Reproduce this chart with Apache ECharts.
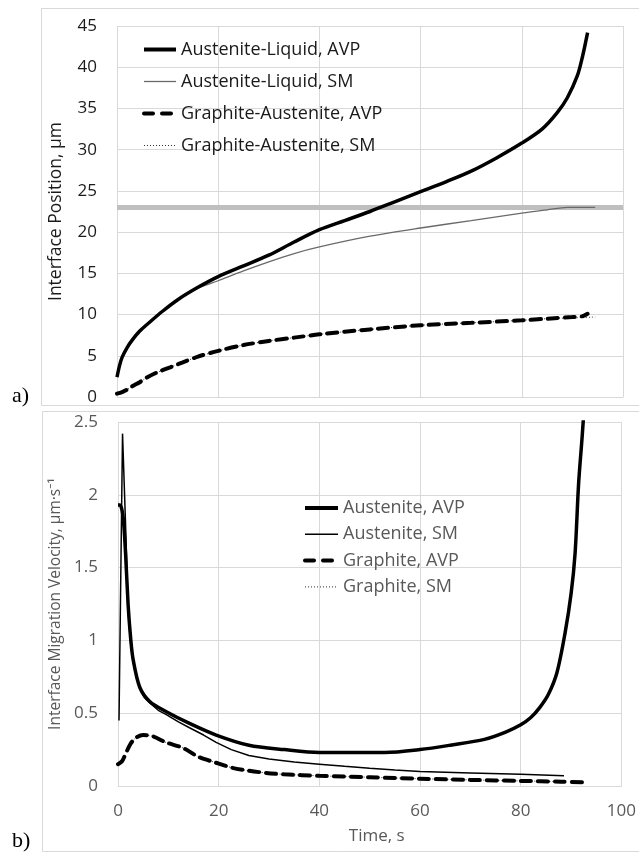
<!DOCTYPE html>
<html>
<head>
<meta charset="utf-8">
<script src="https://cdn.jsdelivr.net/npm/echarts@6/dist/echarts.min.js"></script>
<style>
html,body{margin:0;padding:0;background:#fff;}
#chart{width:639px;height:854px;}
</style>
</head>
<body>
<div id="chart"></div>
<script>
// ---- Data: panel a) Interface Position (µm) vs Time (s) ----
var xTicks = [0, 20, 40, 60, 80, 100];
var posTicksA = [0, 5, 10, 15, 20, 25, 30, 35, 40, 45];
var velTicksB = [0, 0.5, 1, 1.5, 2, 2.5];

var alAvpT = [0, 0.5, 1, 2, 3, 4.5, 6.5, 9, 12, 16, 20, 25, 30, 35, 40, 45, 50, 55, 60, 65, 70, 75, 80, 84, 87, 89, 91, 92, 93];
var alAvpV = [2.4, 3.8, 4.8, 6.0, 6.9, 8.0, 9.1, 10.4, 11.8, 13.3, 14.6, 15.9, 17.2, 18.8, 20.3, 21.4, 22.5, 23.7, 24.9, 26.1, 27.4, 29.0, 30.8, 32.5, 34.5, 36.3, 39.0, 41.3, 44.2];

var alSmT = [0, 0.5, 1, 2, 3, 4.5, 6.5, 9, 12, 16, 20, 25, 30, 35, 40, 50, 60, 70, 80, 85, 89, 94.5];
var alSmV = [2.4, 3.8, 4.8, 6.0, 6.9, 8.0, 9.1, 10.4, 11.8, 13.2, 14.1, 15.3, 16.4, 17.4, 18.2, 19.5, 20.5, 21.4, 22.3, 22.7, 23.0, 23.0];

var gaAvpT = [0, 1, 2, 3, 4.5, 6, 8, 10.5, 13, 16, 20, 25, 30, 35, 40, 50, 60, 70, 80, 85, 90, 92, 93];
var gaAvpV = [0.4, 0.6, 0.9, 1.3, 1.8, 2.4, 3.0, 3.6, 4.2, 4.9, 5.6, 6.3, 6.8, 7.2, 7.6, 8.2, 8.7, 9.0, 9.3, 9.5, 9.7, 9.8, 10.1];

var gaSmT = [0, 1, 2, 3, 4.5, 6, 8, 10.5, 13, 16, 20, 25, 30, 35, 40, 50, 60, 70, 80, 85, 90, 94.5];
var gaSmV = [0.4, 0.6, 0.9, 1.3, 1.8, 2.4, 3.0, 3.6, 4.2, 4.9, 5.6, 6.3, 6.8, 7.2, 7.6, 8.2, 8.7, 9.0, 9.3, 9.5, 9.6, 9.7];

var criticalPosition = 23; // grey horizontal reference line

// ---- Data: panel b) Interface Migration Velocity vs Time ----
var aAvpT = [0, 0.4, 1.0, 1.5, 2.0, 2.5, 3.0, 4.3, 6.3, 9.6, 14.2, 19.5, 26, 33, 40, 47, 53, 60, 66, 72.8, 77, 80, 82, 83.8, 85.5, 87.2, 88.8, 90, 90.8, 91.5, 92.2, 93];
var aAvpV = [1.93, 1.93, 1.85, 1.6, 1.25, 1.02, 0.87, 0.68, 0.58, 0.51, 0.43, 0.35, 0.28, 0.25, 0.23, 0.23, 0.23, 0.25, 0.28, 0.32, 0.37, 0.42, 0.47, 0.54, 0.63, 0.78, 1.05, 1.32, 1.6, 2.08, 2.4, 2.8];

var aSmT = [0.2, 0.9, 1.5, 2, 2.5, 3, 3.7, 4.3, 5.2, 6.3, 8, 9.6, 12, 14.2, 17, 19.5, 22.5, 26, 30, 35, 40, 45, 50, 55, 60, 70, 80, 88.6];
var aSmV = [0.45, 2.42, 1.8, 1.2, 0.98, 0.85, 0.75, 0.67, 0.61, 0.57, 0.52, 0.49, 0.44, 0.40, 0.35, 0.30, 0.25, 0.21, 0.185, 0.165, 0.15, 0.135, 0.122, 0.11, 0.10, 0.09, 0.08, 0.07];

var gAvpT = [0, 0.8, 1.5, 2.5, 3.5, 5, 7, 9.5, 13, 16, 19, 22.7, 26, 29.4, 33, 40, 50, 60, 70, 80, 88, 93];
var gAvpV = [0.15, 0.17, 0.22, 0.29, 0.33, 0.35, 0.34, 0.30, 0.26, 0.20, 0.165, 0.125, 0.105, 0.09, 0.08, 0.07, 0.06, 0.05, 0.042, 0.035, 0.03, 0.025];

var gSmT = [2.5, 3.5, 5, 7, 9.5, 13, 16, 19, 22.7, 26, 29.4, 33, 40, 50, 60, 70, 80, 88];
var gSmV = [0.29, 0.33, 0.35, 0.34, 0.30, 0.26, 0.20, 0.165, 0.125, 0.105, 0.09, 0.08, 0.07, 0.06, 0.05, 0.042, 0.035, 0.03];

function zip(t, v) { return t.map(function (x, i) { return [x, v[i]]; }); }

var FONT = "'Open Sans', 'Noto Sans', sans-serif";
var GRID_C = '#d9d9d9';

var chart = echarts.init(document.getElementById('chart'), null, {renderer: 'canvas'});
chart.setOption({
  animation: false,
  backgroundColor: '#fff',
  textStyle: {fontFamily: FONT},
  grid: [
    {left: 117, top: 26, width: 506, height: 371},
    {left: 118, top: 422, width: 507, height: 364}
  ],
  legend: [
    {
      orient: 'vertical', left: 142, top: 39.5, padding: 0,
      itemWidth: 32, itemHeight: 14, itemGap: 12,
      itemStyle: {opacity: 0},
      textStyle: {fontSize: 18, color: '#1a1a1a', fontFamily: FONT, lineHeight: 20},
      data: [
        {name: 'Austenite-Liquid, AVP', lineStyle: {width: 4}},
        {name: 'Austenite-Liquid, SM', lineStyle: {width: 1.3}},
        {name: 'Graphite-Austenite, AVP', lineStyle: {width: 4, type: [9, 9]}},
        {name: 'Graphite-Austenite, SM', lineStyle: {width: 1, type: [1, 2]}}
      ]
    },
    {
      orient: 'vertical', left: 303, top: 498, padding: 0,
      itemWidth: 33, itemHeight: 14, itemGap: 6.3,
      itemStyle: {opacity: 0},
      textStyle: {fontSize: 18, color: '#595959', fontFamily: FONT, lineHeight: 20},
      data: [
        {name: 'Austenite, AVP', lineStyle: {width: 4}},
        {name: 'Austenite, SM', lineStyle: {width: 1.5}},
        {name: 'Graphite, AVP', lineStyle: {width: 4, type: [9, 9]}},
        {name: 'Graphite, SM', lineStyle: {width: 1, type: [1, 2]}}
      ]
    }
  ],
  xAxis: [
    {
      gridIndex: 0, type: 'value', min: 0, max: 100, interval: 20,
      axisLabel: {show: false}, axisTick: {show: false},
      axisLine: {show: true, lineStyle: {color: GRID_C}},
      splitLine: {show: true, lineStyle: {color: GRID_C}}
    },
    {
      gridIndex: 1, type: 'value', min: 0, max: 100, interval: 20,
      axisLabel: {fontSize: 17, color: '#595959', margin: 17, fontFamily: FONT},
      axisTick: {show: false},
      axisLine: {show: true, lineStyle: {color: GRID_C}},
      splitLine: {show: true, lineStyle: {color: GRID_C}},
      name: 'Time, s', nameLocation: 'middle', nameGap: 42,
      nameTextStyle: {fontSize: 17, color: '#595959', fontFamily: FONT, padding: [0, 0, 0, 14]}
    }
  ],
  yAxis: [
    {
      gridIndex: 0, type: 'value', min: 0, max: 45, interval: 5,
      axisLabel: {fontSize: 17, color: '#1a1a1a', margin: 20, fontFamily: FONT},
      axisTick: {show: false}, axisLine: {show: false},
      splitLine: {show: true, lineStyle: {color: GRID_C}},
      name: 'Interface Position, μm', nameLocation: 'middle', nameGap: 52,
      nameTextStyle: {fontSize: 17.5, color: '#1a1a1a', fontFamily: FONT}
    },
    {
      gridIndex: 1, type: 'value', min: 0, max: 2.5, interval: 0.5,
      axisLabel: {fontSize: 17, color: '#595959', margin: 20, fontFamily: FONT},
      axisTick: {show: false}, axisLine: {show: false},
      splitLine: {show: true, lineStyle: {color: GRID_C}},
      name: 'Interface Migration Velocity, μm·s⁻¹', nameLocation: 'middle', nameGap: 52,
      nameTextStyle: {fontSize: 15.5, color: '#595959', fontFamily: FONT}
    }
  ],
  series: [
    {
      name: 'ref', type: 'line', xAxisIndex: 0, yAxisIndex: 0, symbol: 'none', silent: true,
      data: [[0, criticalPosition], [100, criticalPosition]],
      lineStyle: {color: '#bfbfbf', width: 5}, z: 1
    },
    {
      name: 'Austenite-Liquid, SM', type: 'line', xAxisIndex: 0, yAxisIndex: 0, symbol: 'none', smooth: 0.3,
      data: zip(alSmT, alSmV), color: '#6a6a6a',
      lineStyle: {color: '#6a6a6a', width: 1.3}, z: 3
    },
    {
      name: 'Austenite-Liquid, AVP', type: 'line', xAxisIndex: 0, yAxisIndex: 0, symbol: 'none', smooth: 0.3,
      data: zip(alAvpT, alAvpV), color: '#000',
      lineStyle: {color: '#000', width: 3.5}, z: 4
    },
    {
      name: 'Graphite-Austenite, SM', type: 'line', xAxisIndex: 0, yAxisIndex: 0, symbol: 'none', smooth: 0.3,
      data: zip(gaSmT, gaSmV), color: '#333',
      lineStyle: {color: '#333', width: 1, type: [1, 2]}, z: 3
    },
    {
      name: 'Graphite-Austenite, AVP', type: 'line', xAxisIndex: 0, yAxisIndex: 0, symbol: 'none', smooth: 0.3,
      data: zip(gaAvpT, gaAvpV), color: '#000',
      lineStyle: {color: '#000', width: 4, type: [10, 7], cap: 'round'}, z: 4
    },
    {
      name: 'Austenite, SM', type: 'line', xAxisIndex: 1, yAxisIndex: 1, symbol: 'none', smooth: false,
      data: zip(aSmT, aSmV), color: '#000',
      lineStyle: {color: '#000', width: 1.5}, z: 3
    },
    {
      name: 'Austenite, AVP', type: 'line', xAxisIndex: 1, yAxisIndex: 1, symbol: 'none', smooth: 0.3,
      data: zip(aAvpT, aAvpV), color: '#000',
      lineStyle: {color: '#000', width: 3.5}, z: 4
    },
    {
      name: 'Graphite, SM', type: 'line', xAxisIndex: 1, yAxisIndex: 1, symbol: 'none', smooth: 0.3,
      data: zip(gSmT, gSmV), color: '#333',
      lineStyle: {color: '#333', width: 1, type: [1, 2]}, z: 3
    },
    {
      name: 'Graphite, AVP', type: 'line', xAxisIndex: 1, yAxisIndex: 1, symbol: 'none', smooth: 0.3,
      data: zip(gAvpT, gAvpV), color: '#000',
      lineStyle: {color: '#000', width: 4, type: [10, 7], cap: 'round'}, z: 4
    }
  ],
  graphic: [
    {type: 'rect', shape: {x: 41.5, y: 8.5, width: 620, height: 397}, style: {fill: 'none', stroke: GRID_C, lineWidth: 1}, silent: true, z: -1},
    {type: 'rect', shape: {x: 42.5, y: 411.5, width: 620, height: 440}, style: {fill: 'none', stroke: GRID_C, lineWidth: 1}, silent: true, z: -1},
    {type: 'text', left: 12, top: 385, style: {text: 'a)', font: "22px 'Liberation Serif', serif", fill: '#000'}},
    {type: 'text', left: 12, top: 830, style: {text: 'b)', font: "22px 'Liberation Serif', serif", fill: '#000'}}
  ]
});
</script>
</body>
</html>
